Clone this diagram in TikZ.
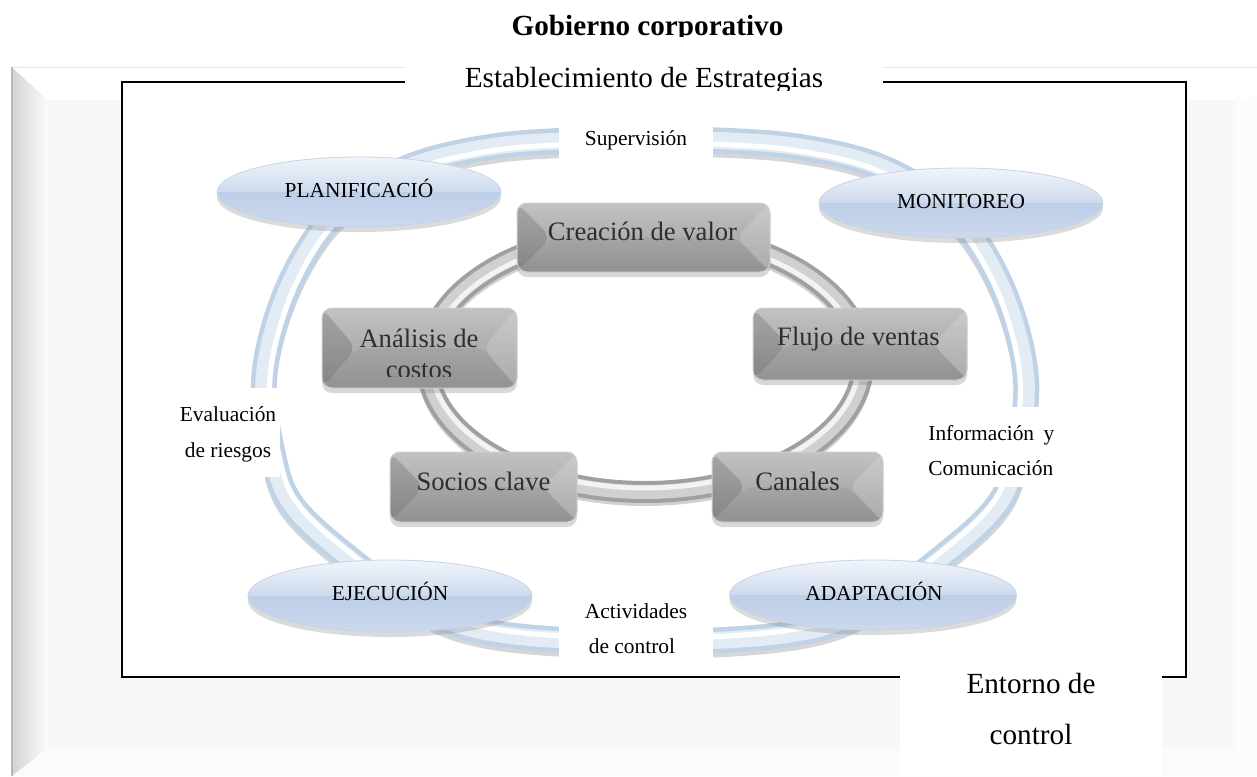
\documentclass[tikz,border=0pt]{standalone}
\usepackage{fontspec}
\setmainfont{Liberation Serif}
\usetikzlibrary{shapes.geometric,shadows}

\definecolor{framegray}{HTML}{F8F8F8}
\definecolor{frameedge}{HTML}{B8B8B8}
\definecolor{bevelleft}{HTML}{D3D3D3}
\definecolor{ringedge}{HTML}{C0D2E6}
\definecolor{ringbody}{HTML}{E3ECF5}
\definecolor{loopedge}{HTML}{A0A0A0}
\definecolor{loopbody}{HTML}{D0D0D0}
\definecolor{loophi}{HTML}{F3F3F3}
\definecolor{pilltop}{HTML}{F1F5FB}
\definecolor{pillbottom}{HTML}{A9BFDF}
\definecolor{pilllow}{HTML}{B0C4E3}
\definecolor{pillline}{HTML}{C6D4E7}
\definecolor{tiletop}{HTML}{C2C2C2}
\definecolor{tilebottom}{HTML}{9A9A9A}
\definecolor{tileline}{HTML}{CFCFCF}
\definecolor{tiletext}{HTML}{2E2E2E}

\begin{document}
\begin{tikzpicture}[x=0.5pt,y=-0.5pt,
  stage/.style={ellipse, draw=pillline, line width=0.4pt,
    top color=pilltop, bottom color=pillbottom, inner sep=0pt,
    minimum width=142pt, minimum height=35pt,
    drop shadow={opacity=0.28, shadow xshift=0pt, shadow yshift=-2.5pt},
    path picture={\shade[top color=pilllow, bottom color=pilllow!65!white]
      (path picture bounding box.west) rectangle (path picture bounding box.south east);}},
  tile/.style={rectangle, rounded corners=5pt, draw=tileline, line width=0.5pt,
    top color=tiletop, bottom color=tilebottom, inner sep=0pt,
    drop shadow={opacity=0.3, shadow xshift=0pt, shadow yshift=-2.5pt},
    path picture={
      \fill[black,opacity=0.14] (path picture bounding box.north west)
        -- ([xshift=17pt]path picture bounding box.west) -- (path picture bounding box.south west) -- cycle;
      \fill[white,opacity=0.16] (path picture bounding box.north east)
        -- ([xshift=-17pt]path picture bounding box.east) -- (path picture bounding box.south east) -- cycle;
      \fill[black,opacity=0.05] (path picture bounding box.south west)
        -- ([xshift=17pt]path picture bounding box.west) -- ([xshift=-17pt]path picture bounding box.east)
        -- (path picture bounding box.south east) -- cycle;}},
  tiletxt/.style={font=\fontsize{13.3}{15}\selectfont, text=tiletext, anchor=base, inner sep=0pt},
  lbl/.style={font=\fontsize{10.7}{13}\selectfont, anchor=base, inner sep=0pt},
  bigtxt/.style={font=\fontsize{14.6}{17}\selectfont, anchor=base, inner sep=0pt}
]
\useasboundingbox (0,0) rectangle (1257,776);
\fill[white] (0,0) rectangle (1257,776);

% bevelled background panel
\fill[framegray] (12,67) rectangle (1257,776);
\shade[left color=bevelleft, right color=framegray!50!white] (12,67) -- (48,100) -- (48,748) -- (12,776) -- cycle;
\fill[white] (12,67) -- (1257,67) -- (1257,97) -- (1235,100) -- (48,100) -- cycle;
\fill[framegray!35!white] (1235,100) -- (1257,97) -- (1257,776) -- (1235,748) -- cycle;
\fill[framegray!50!white] (48,748) -- (1235,748) -- (1257,776) -- (12,776) -- cycle;
\draw[black!10, line width=0.5pt] (12,67) -- (1257,67);
\draw[frameedge, line width=0.8pt] (12,67) -- (12,776);

% control frame
\draw[line width=1.4pt, fill=white] (122,82) rectangle (1186,677);

% outer ring
\draw[line width=12pt, black, opacity=0.16, shift={(645,395)}]
  plot[smooth cycle, tension=0.6] coordinates {(0,-251) (85,-249) (155,-243) (225,-227) (280,-199) (325,-158) (362,-90) (381,-10) (372,65) (353,115) (300,165) (225,218) (145,244) (0,252) (-145,244) (-225,218) (-300,165) (-353,115) (-372,65) (-381,-10) (-362,-90) (-325,-158) (-280,-199) (-225,-227) (-155,-243) (-85,-249)};
\foreach \w/\c/\s in {13pt/ringedge/1, 8.5pt/ringbody/1, 2.5pt/white/0.985}
  \draw[line width=\w, color=\c, shift={(645,390)}, scale=\s]
  plot[smooth cycle, tension=0.6] coordinates {(0,-251) (85,-249) (155,-243) (225,-227) (280,-199) (325,-158) (362,-90) (381,-10) (372,65) (353,115) (300,165) (225,218) (145,244) (0,252) (-145,244) (-225,218) (-300,165) (-353,115) (-372,65) (-381,-10) (-362,-90) (-325,-158) (-280,-199) (-225,-227) (-155,-243) (-85,-249)};

% inner ring
\draw[line width=10pt, black, opacity=0.18] (645,366) ellipse [x radius=218, y radius=130];
\foreach \w/\c/\rx/\ry in {11pt/loopedge/218/130, 7pt/loopbody/218/130, 2.5pt/loophi/214/126}
  \draw[line width=\w, color=\c] (645,362) ellipse [x radius=\rx, y radius=\ry];

% label backgrounds on the ring
\fill[white] (559,113) rectangle (713,163);
\fill[white] (559,598) rectangle (713,670);
\fill[white] (160,388) rectangle (280,477);
\fill[white] (905,407) rectangle (1066,487);

% stages
\node[stage] (plan) at (359,192) {};
\node[stage] (moni) at (961,203) {};
\node[stage, minimum height=36pt] (ejec) at (390,596) {};
\node[stage, minimum width=143.5pt] (adap) at (873,595) {};
\node[lbl] (plant) at (359,197) {PLANIFICACIÓ};
\node[lbl] (monit) at (961,208) {MONITOREO};
\node[lbl] (eject) at (390,600) {EJECUCIÓN};
\node[lbl] (adapt) at (874,600) {ADAPTACIÓN};

% business model tiles
\node[tile, minimum width=126.5pt, minimum height=34.5pt] (crea) at (643.5,237.5) {};
\node[tile, minimum width=97.5pt, minimum height=40pt] (anal) at (419.5,348) {};
\node[tile, minimum width=107pt, minimum height=36pt] (fluj) at (860,344) {};
\node[tile, minimum width=93.5pt, minimum height=35pt] (soci) at (483.5,487) {};
\node[tile, minimum width=85.5pt, minimum height=35pt] (cana) at (797.5,487) {};
\node[tiletxt] (creat) at (642.5,240) {Creación de valor};
\begin{scope}
  \clip (322,300) rectangle (517,376);
  \node[tiletxt] (analt1) at (419,347) {Análisis de};
  \node[tiletxt] (analt2) at (419,378) {costos};
\end{scope}
\node[tiletxt] (flujt) at (858.5,345) {Flujo de ventas};
\node[tiletxt] (socit) at (483.5,490) {Socios clave};
\node[tiletxt] (canat) at (797.5,490) {Canales};

% ring labels
\node[lbl] (supe) at (636,145) {Supervisión};
\node[lbl] (eval1) at (228,421) {Evaluación};
\node[lbl] (eval2) at (228,457) {de riesgos};
\node[lbl, anchor=base west] (info1) at (928,440) {\makebox[63pt][s]{Información y}};
\node[lbl, anchor=base west] (info2) at (928,475) {Comunicación};
\node[lbl] (acti1) at (636,618) {Actividades};
\node[lbl] (acti2) at (632,653) {de control};

% strategy caption breaking the top edge
\fill[white] (405,58) rectangle (883,100);
\begin{scope}
  \clip (405,40) rectangle (883,90);
  \node[bigtxt] (estr) at (644,87) {Establecimiento de Estrategias};
\end{scope}

% environment caption breaking the bottom edge
\fill[white] (900,671) rectangle (1162,776);
\node[bigtxt] (ento1) at (1031,693) {Entorno de};
\node[bigtxt] (ento2) at (1031,744) {control};

% title
\begin{scope}
  \clip (300,0) rectangle (1000,36.5);
  \node[bigtxt, font=\fontsize{14.6}{17}\selectfont\bfseries] (gobi) at (647.5,35) {Gobierno corporativo};
\end{scope}
\end{tikzpicture}
\end{document}
